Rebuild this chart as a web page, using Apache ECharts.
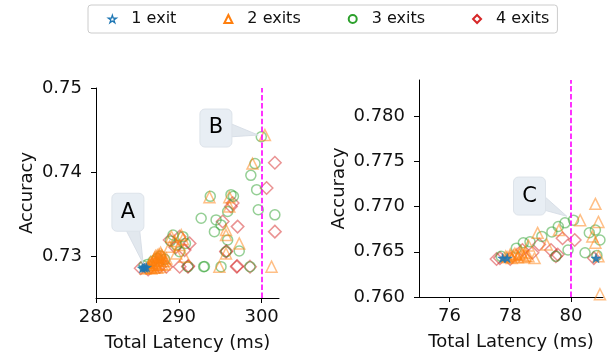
<!DOCTYPE html>
<html><head><meta charset="utf-8">
<script src="https://cdn.jsdelivr.net/npm/echarts@6/dist/echarts.min.js"></script>
<style>html,body{margin:0;padding:0;background:#fff}#c{width:608px;height:358px}</style>
</head><body><div id="c"></div>
<script>
// ---------- data ----------
const seriesNames = ['1 exit', '2 exits', '3 exits', '4 exits'];
const leftXTicks = [280, 290, 300];
const leftYTicks = [0.73, 0.74, 0.75];
const rightXTicks = [76, 78, 80];
const rightYTicks = [0.760, 0.765, 0.770, 0.775, 0.780];
const leftDeadline = 300;
const rightDeadline = 80;

const left1 = [[285.6,0.72855],[285.9,0.7286],[286.1,0.72865],[285.75,0.7287]];
const left2 = [
 [286.0,0.7285],[286.3,0.7286],[286.6,0.7287],[286.9,0.7289],[287.1,0.7292],[287.3,0.7295],[287.5,0.7298],
 [287.7,0.7299],[287.9,0.7297],[288.1,0.7294],[288.0,0.7290],[287.6,0.7291],[287.3,0.7289],[287.0,0.7286],
 [286.7,0.7285],[287.4,0.7286],[287.8,0.7287],[288.3,0.7290],[286.5,0.7290],[287.2,0.7300],
 [286.8,0.7292],[287.0,0.7296],[287.6,0.7302],[288.2,0.7298],[288.4,0.7294],[287.9,0.7301],[286.4,0.7288],[287.5,0.7294],
 [287.1,0.7298],[287.4,0.7301],[287.8,0.7304],[288.0,0.7300],[286.6,0.7293],[288.5,0.7297],[287.2,0.7290],[287.7,0.7295],
 [288.9,0.7311],[289.1,0.7323],[290.3,0.7325],[290.1,0.7313],[289.7,0.7303],[290.7,0.7299],[289.5,0.7318],[290.5,0.7320],
 [294.9,0.72873],[295.7,0.7303],[295.7,0.7331],[297.3,0.7315],[295.7,0.7325],[296.1,0.7359],[293.7,0.7370],
 [296.1,0.7370],[298.9,0.7410],[300.4,0.7444],[301.2,0.72873]
];
const left3 = [
 [285.8,0.7288],[286.2,0.7290],[286.9,0.7294],[287.4,0.7297],[287.8,0.7300],[288.3,0.7296],
 [289.3,0.7325],[290.5,0.7323],[289.7,0.7313],[290.1,0.7305],[289.0,0.7318],[290.8,0.7315],
 [291.1,0.72873],[293.0,0.72873],[293.1,0.72875],[295.1,0.72873],[298.6,0.72873],
 [292.7,0.7345],[294.5,0.7343],[295.1,0.7337],[294.3,0.7329],[295.9,0.7319],[295.7,0.7305],[297.3,0.7306],
 [295.9,0.7353],[293.8,0.7371],[296.3,0.7373],[296.6,0.7371],[298.7,0.7396],[299.2,0.7410],[299.4,0.7379],
 [299.6,0.7355],[301.6,0.7349],[299.96,0.7442]
];
const left4 = [
 [285.4,0.72855],[286.3,0.7284],[287.7,0.72873],[288.5,0.72873],[290.1,0.72873],[291.1,0.72873],[291.15,0.7288],
 [297.0,0.72873],[297.05,0.7288],[298.6,0.72873],
 [288.9,0.7319],[290.1,0.7323],[291.3,0.7315],[290.7,0.7307],[289.6,0.7310],
 [295.7,0.7305],[295.75,0.7306],[295.3,0.7341],[297.1,0.7335],[296.3,0.7359],[296.5,0.7363],[300.6,0.7381],
 [301.6,0.7411],[301.6,0.7329]
];

const right1 = [[77.75,0.7643],[77.9,0.7643],[80.82,0.7643]];
const right2 = [
 [77.9,0.7644],[78.0,0.7645],[78.1,0.7646],[78.2,0.7647],[78.3,0.7648],[78.4,0.7647],[78.5,0.7646],
 [78.25,0.7644],[78.05,0.7643],[78.45,0.7644],[78.6,0.7645],
 [78.15,0.7648],[78.35,0.7650],[78.0,0.7647],[78.5,0.7649],[77.85,0.7645],
 [78.8,0.7643],[78.9,0.7671],[79.2,0.7658],[79.6,0.7674],[78.6,0.7657],[80.3,0.7685],[80.8,0.7703],
 [80.9,0.7683],[80.7,0.7667],[80.8,0.7660],[80.9,0.7645],[80.95,0.7603]
];
const right3 = [
 [77.7,0.7645],[78.2,0.7654],[78.43,0.7660],[78.65,0.7661],[79.04,0.7667],[79.37,0.7672],[79.58,0.7678],
 [79.8,0.7682],[80.08,0.7685],[79.9,0.7652],[80.46,0.7649],[80.6,0.7671],[80.8,0.7674],[80.95,0.7663],
 [80.85,0.7646],[79.5,0.7645]
];
const right4 = [
 [77.55,0.7642],[77.66,0.7643],[78.0,0.7642],[78.4,0.7652],[78.73,0.7649],[78.95,0.7658],[79.34,0.7652],
 [79.56,0.7647],[79.5,0.7645],[79.72,0.7665],[80.12,0.7663],[80.75,0.7643]
];

// annotation labels and the data points they point to
const annotLabels = ['A', 'B', 'C'];
const annotPanels = [0, 0, 1];
const annotTargets = [[285.7,0.7291],[299.59,0.7444],[79.86,0.76893]];

// ---------- layout / style ----------
const FONT = 'DejaVu Sans';
const annotOffsets = [[-15.3,-51.3],[-42.3,-7],[-37.3,-20.2]];
const colors = ['#1f77b4', '#ff7f0e', '#2ca02c', '#d62728'];
const STAR = 'path://M50 0 L61.2 34.5 L97.6 34.5 L68.2 55.9 L79.4 90.5 L50 69.1 L20.6 90.5 L31.8 55.9 L2.4 34.5 L38.8 34.5 Z';
const symbols = [STAR, 'triangle', 'circle', 'diamond'];
const sizes = [10, 11, 10, 12.5];

function sc(k, grid, data, extra) {
  const filled = k === 0;
  const s = {
    type: 'scatter', name: seriesNames[k], xAxisIndex: grid, yAxisIndex: grid, data,
    symbol: symbols[k], symbolSize: sizes[k], symbolKeepAspect: true, silent: true, clip: true,
    itemStyle: filled
      ? { color: colors[k], borderColor: colors[k], borderWidth: 0.5, opacity: 0.9 }
      : { color: 'rgba(255,255,255,0)', borderColor: colors[k], borderWidth: 1.5, opacity: 0.5 },
    emphasis: { disabled: true }
  };
  return Object.assign(s, extra || {});
}
function vline(v) {
  return { silent: true, symbol: 'none', label: { show: false },
    lineStyle: { color: '#ff00ff', type: [5.5, 2.4], width: 1.6, opacity: 1 },
    emphasis: { disabled: true }, data: [{ xAxis: v }] };
}
const axisCommon = {
  type: 'value', splitLine: { show: false },
  axisLine: { show: true, onZero: false, lineStyle: { color: '#000', width: 1 } },
  axisTick: { show: true, length: 5, lineStyle: { color: '#000', width: 1 } },
  nameTextStyle: { fontSize: 18, fontFamily: FONT, color: '#111' }
};
function xAx(grid, min, max, ticks) {
  return Object.assign({}, axisCommon, {
    gridIndex: grid, min, max, name: 'Total Latency (ms)', nameLocation: 'middle', nameGap: 36,
    axisTick: Object.assign({}, axisCommon.axisTick, { customValues: ticks }),
    axisLabel: { customValues: ticks, fontSize: 18, fontFamily: FONT, color: '#111', margin: 10 }
  });
}
function yAx(grid, min, max, ticks, dec, gap) {
  return Object.assign({}, axisCommon, {
    gridIndex: grid, min, max, name: 'Accuracy', nameLocation: 'middle', nameRotate: 90, nameGap: gap,
    axisTick: Object.assign({}, axisCommon.axisTick, { customValues: ticks }),
    axisLabel: { customValues: ticks, fontSize: 18, fontFamily: FONT, color: '#111', margin: 14,
      formatter: v => v.toFixed(dec) }
  });
}

const chart = echarts.init(document.getElementById('c'), null, { renderer: 'canvas' });
chart.setOption({
  animation: false,
  backgroundColor: '#fff',
  textStyle: { fontFamily: FONT },
  legend: {
    left: 88, top: 5, orient: 'horizontal', padding: [6, 8, 6, 19.7], itemGap: 47,
    itemWidth: 8, itemHeight: 8, borderColor: '#cccccc', borderWidth: 1, borderRadius: 3,
    selectedMode: false,
    textStyle: { fontSize: 16, fontFamily: FONT, color: '#111', padding: [0, 0, 0, 10] },
    data: seriesNames.map((n, k) => ({ name: n,
      itemStyle: k === 0
        ? { opacity: 1, color: 'rgba(255,255,255,0)', borderColor: colors[0], borderWidth: 1.3 }
        : { opacity: 1 } }))
  },
  grid: [
    { left: 96, top: 88, width: 183, height: 210 },
    { left: 419, top: 80, width: 184, height: 217 }
  ],
  xAxis: [ xAx(0, 280, 302.1, leftXTicks), xAx(1, 75, 81.05, rightXTicks) ],
  yAxis: [ yAx(0, 0.725, 0.75, leftYTicks, 2, 60), yAx(1, 0.760, 0.784, rightYTicks, 3, 71) ],
  series: [
    sc(3, 0, left4), sc(2, 0, left3), sc(1, 0, left2), sc(0, 0, left1, { markLine: vline(leftDeadline) }),
    sc(3, 1, right4), sc(2, 1, right3), sc(1, 1, right2), sc(0, 1, right1, { markLine: vline(rightDeadline) })
  ]
});

// annotations: rounded label boxes with wedge pointers
const g = [];
annotLabels.forEach((lab, i) => {
  const tip = chart.convertToPixel({ gridIndex: annotPanels[i] }, annotTargets[i]);
  const cx = tip[0] + annotOffsets[i][0], cy = tip[1] + annotOffsets[i][1];
  const dx = tip[0] - cx, dy = tip[1] - cy, L = Math.hypot(dx, dy);
  const px = -dy / L, py = dx / L, W = 10;
  g.push({ type: 'polygon', z: 100, silent: true,
    shape: { points: [[tip[0], tip[1]], [cx + px * W, cy + py * W], [cx - px * W, cy - py * W]] },
    style: { fill: '#dfe5ec', stroke: '#d6dde5', lineWidth: 1, opacity: 0.9 } });
  g.push({ type: 'rect', z: 101, silent: true,
    shape: { x: cx - 16, y: cy - 19, width: 32, height: 38, r: 5 },
    style: { fill: '#e8eef4', stroke: '#dde3ea', lineWidth: 1 } });
  g.push({ type: 'text', z: 102, silent: true, x: cx, y: cy,
    style: { text: lab, fontSize: 21, fontFamily: FONT, fill: '#000', align: 'center', verticalAlign: 'middle' } });
});
chart.setOption({ graphic: g });
</script></body></html>
